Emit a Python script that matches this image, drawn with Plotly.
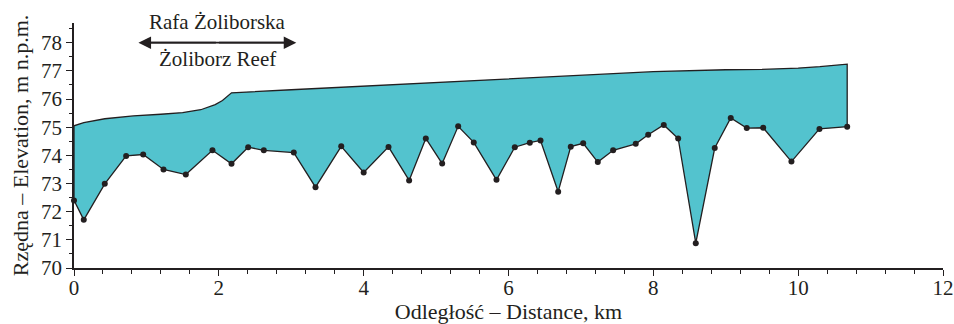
import plotly.graph_objects as go

# Bottom (measured) profile points
bottom_km = [0.0, 0.135, 0.425, 0.72, 0.955, 1.236, 1.544, 1.912, 2.175, 2.405, 2.621, 3.035,
             3.335, 3.69, 4.0, 4.343, 4.628, 4.858, 5.084, 5.305, 5.52, 5.834, 6.087, 6.294,
             6.442, 6.686, 6.86, 7.031, 7.233, 7.445, 7.757, 7.929, 8.144, 8.343, 8.586,
             8.848, 9.069, 9.29, 9.517, 9.907, 10.294, 10.677]
bottom_elev = [72.40, 71.71, 72.99, 73.98, 74.03, 73.50, 73.32, 74.18, 73.70, 74.29, 74.18, 74.10,
               72.87, 74.32, 73.39, 74.30, 73.11, 74.60, 73.71, 75.03, 74.46, 73.13, 74.29, 74.45,
               74.53, 72.71, 74.31, 74.43, 73.76, 74.18, 74.41, 74.73, 75.08, 74.60, 70.88,
               74.26, 75.33, 74.97, 74.98, 73.78, 74.94, 75.02]

# Water surface profile
surface_km = [0.0, 0.135, 0.425, 0.82, 1.2, 1.5, 1.75, 1.95, 2.05, 2.175, 3.0, 4.0, 5.0,
              6.0, 7.0, 8.0, 9.0, 9.5, 10.0, 10.3, 10.677]
surface_elev = [75.05, 75.16, 75.30, 75.40, 75.46, 75.52, 75.62, 75.80, 75.95, 76.22, 76.33,
                76.46, 76.60, 76.73, 76.86, 76.97, 77.04, 77.05, 77.10, 77.15, 77.24]

x_ticks = [0, 2, 4, 6, 8, 10, 12]
y_ticks = [70, 71, 72, 73, 74, 75, 76, 77, 78]

reef_start, reef_end = 0.89, 3.07
reef_label_pl = "Rafa Żoliborska"
reef_label_en = "Żoliborz Reef"

FONT = "Liberation Serif"
INK = "#231F20"

poly_x = surface_km + bottom_km[::-1] + [surface_km[0]]
poly_y = surface_elev + bottom_elev[::-1] + [surface_elev[0]]

fig = go.Figure()
fig.add_trace(go.Scatter(
    x=poly_x, y=poly_y, mode="lines", fill="toself",
    fillcolor="#53C3CE", line=dict(color=INK, width=1.3),
    hoverinfo="skip", showlegend=False))
fig.add_trace(go.Scatter(
    x=bottom_km, y=bottom_elev, mode="markers",
    marker=dict(color=INK, size=6), showlegend=False, cliponaxis=False))

mid = (reef_start + reef_end) / 2
arrow_y = 78.0
fig.add_shape(type="line", x0=reef_start + 0.15, x1=reef_end - 0.15, y0=arrow_y, y1=arrow_y,
              xref="x", yref="y", line=dict(color=INK, width=1.8))
for end in (reef_start, reef_end):
    fig.add_annotation(x=end, y=arrow_y, ax=mid, ay=arrow_y, xref="x", yref="y",
                       axref="x", ayref="y", showarrow=True, arrowhead=2,
                       arrowsize=1.4, arrowwidth=1.8, arrowcolor=INK, text="")
fig.add_annotation(x=mid, y=arrow_y, xref="x", yref="y", text=reef_label_pl,
                   showarrow=False, yshift=21, font=dict(family=FONT, size=21, color=INK))
fig.add_annotation(x=mid, y=arrow_y, xref="x", yref="y", text=reef_label_en,
                   showarrow=False, yshift=-16, font=dict(family=FONT, size=21, color=INK))

fig.update_layout(
    width=954, height=324,
    margin=dict(l=74, r=11, t=23, b=56),
    plot_bgcolor="white", paper_bgcolor="white",
    font=dict(family=FONT, size=20, color=INK),
)
fig.update_xaxes(
    range=[0, 12], tickvals=x_ticks, ticktext=[str(v) for v in x_ticks],
    showgrid=False, zeroline=False, showline=True, linecolor=INK, linewidth=1.5,
    ticks="outside", ticklen=6, tickwidth=1.3, tickcolor=INK,
    minor=dict(dtick=0.4, tick0=0, ticks="outside", ticklen=4, tickwidth=1.2, tickcolor=INK),
    tickfont=dict(family=FONT, size=21), automargin=False, ticklabelstandoff=-6,
    title=dict(text="Odległość – Distance, km", font=dict(family=FONT, size=22), standoff=2),
)
fig.update_yaxes(
    range=[70, 78.7], tickvals=y_ticks, ticktext=[str(v) for v in y_ticks],
    showgrid=False, zeroline=False, showline=True, linecolor=INK, linewidth=1.5,
    ticks="outside", ticklen=6, tickwidth=1.3, tickcolor=INK,
    minor=dict(dtick=0.5, tick0=70, ticks="outside", ticklen=3, tickwidth=1, tickcolor=INK),
    tickfont=dict(family=FONT, size=21), automargin=False,
    title=dict(text="Rzędna – Elevation, m n.p.m.", font=dict(family=FONT, size=22), standoff=6),
)

fig.write_html("out.html", config={"displayModeBar": False},
               post_script="document.body.style.margin='0';")
